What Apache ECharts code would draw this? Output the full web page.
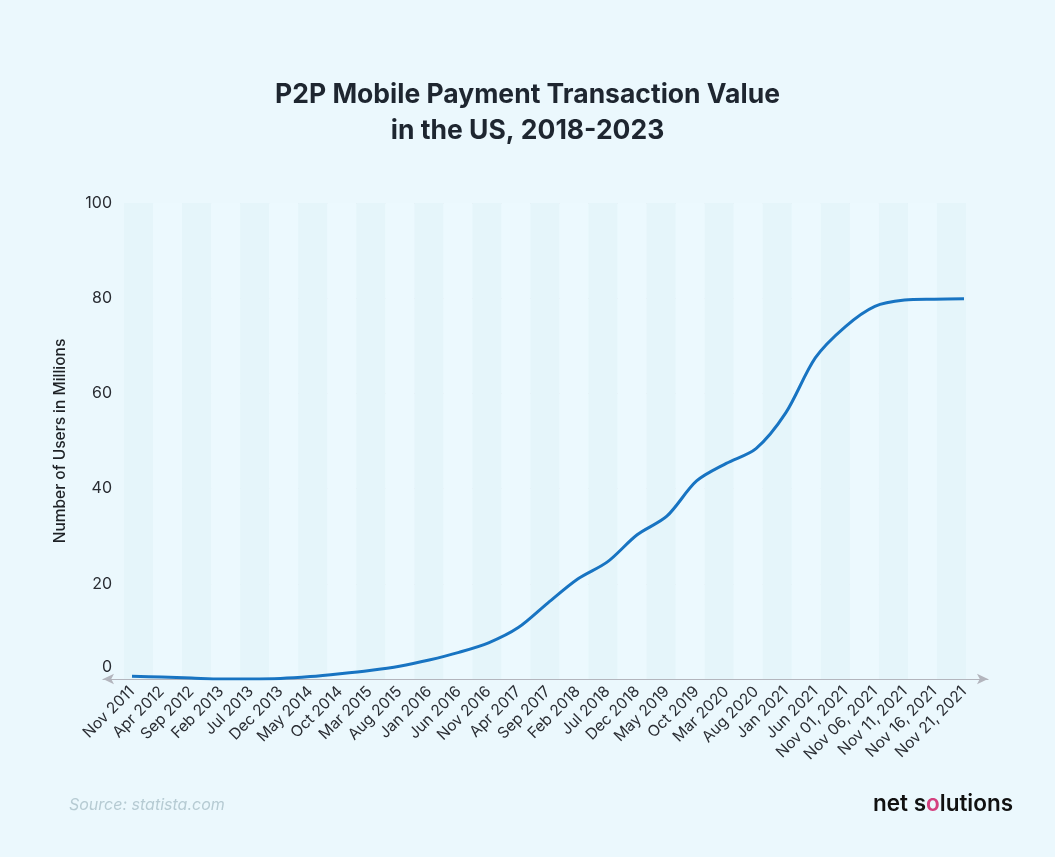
<!DOCTYPE html>
<html>
<head>
<meta charset="utf-8">
<script src="https://cdn.jsdelivr.net/npm/echarts@6/dist/echarts.min.js"></script>
<style>
html,body{margin:0;padding:0;background:#ebf8fd;}
#chart{width:1055px;height:857px;}
</style>
</head>
<body>
<div id="chart"></div>
<script>
const categories = ['Nov 2011','Apr 2012','Sep 2012','Feb 2013','Jul 2013','Dec 2013','May 2014','Oct 2014','Mar 2015','Aug 2015','Jan 2016','Jun 2016','Nov 2016','Apr 2017','Sep 2017','Feb 2018','Jul 2018','Dec 2018','May 2019','Oct 2019','Mar 2020','Aug 2020','Jan 2021','Jun 2021','Nov 01, 2021','Nov 06, 2021','Nov 11, 2021','Nov 16, 2021','Nov 21, 2021'];
const users = [0.6,0.4,0.2,0.0,0.0,0.1,0.5,1.1,1.8,2.7,4.0,5.6,7.6,10.8,16.0,21.0,24.6,30.3,34.2,41.6,45.3,48.4,55.9,67.5,74.0,78.3,79.6,79.8,79.9];
const yTicks = {min:0, max:100, interval:20};

const chart = echarts.init(document.getElementById('chart'));
const FONT = 'Inter, Lato, sans-serif';
chart.setOption({
  backgroundColor:'#ebf8fd',
  animation:false,
  title:{
    text:'P2P Mobile Payment Transaction Value\nin the US, 2018-2023',
    left:'center', top:72,
    textStyle:{fontFamily:FONT, fontSize:26.5, fontWeight:700, color:'#1e2630', lineHeight:36}
  },
  graphic:[
    {type:'text', left:69, top:797, style:{text:'Source: statista.com', fontFamily:FONT, fontStyle:'italic', fontSize:16, fill:'#b6cbd3'}},
    {type:'text', left:873, top:793, style:{
      text:'{a|net s}{o|o}{a|lutions}',
      rich:{
        a:{fontFamily:FONT, fontSize:22.5, fontWeight:600, fill:'#111111'},
        o:{fontFamily:FONT, fontSize:22.5, fontWeight:600, fill:'#d4407f'}
      }}}
  ],
  grid:[
    {left:124, right:89, top:203, bottom:178},
    {left:132, right:91, top:203, bottom:178},
    {left:103, right:67, top:203, bottom:178}
  ],
  xAxis:[
    {type:'category', gridIndex:0, data:categories, boundaryGap:true,
     axisLine:{show:false}, axisTick:{show:false}, axisLabel:{show:false, interval:0},
     splitLine:{show:false},
     splitArea:{show:true, interval:0, areaStyle:{color:['#e5f5fa','#ecf9fe']}}},
    {type:'category', gridIndex:1, data:categories, boundaryGap:false,
     axisLine:{show:false}, axisTick:{show:false},
     axisLabel:{rotate:45, margin:10, interval:0, fontFamily:FONT, fontSize:15.5, color:'#2a2d33'}},
    {type:'category', gridIndex:2, data:categories, boundaryGap:false,
     axisLine:{show:true, symbol:['arrow','arrow'], symbolSize:[8,11], lineStyle:{color:'#b3b5bd', width:1.2}},
     axisTick:{show:false}, axisLabel:{show:false}}
  ],
  yAxis:[
    {type:'value', gridIndex:0, min:yTicks.min, max:yTicks.max, interval:yTicks.interval,
     name:'Number of Users in Millions', nameLocation:'middle', nameGap:56, nameRotate:90,
     nameTextStyle:{fontFamily:FONT, fontSize:15.5, fontWeight:500, color:'#1e2226'},
     axisLine:{show:false}, axisTick:{show:false},
     axisLabel:{margin:12, fontFamily:FONT, fontSize:16, color:'#2a2d33',
       formatter:function(v){return v===0?'{z|0}':String(v);},
       rich:{z:{fontFamily:FONT, fontSize:16, color:'#2a2d33', padding:[0,0,24,0]}}},
     splitLine:{show:true, lineStyle:{color:'#e1e3ea', width:1}}},
    {type:'value', gridIndex:1, min:yTicks.min, max:yTicks.max, show:false, splitLine:{show:false}},
    {type:'value', gridIndex:2, min:yTicks.min, max:yTicks.max, show:false, splitLine:{show:false}}
  ],
  series:[
    {type:'line', xAxisIndex:1, yAxisIndex:1, data:users, smooth:0.3,
     showSymbol:false, lineStyle:{color:'#1874c2', width:3}}
  ]
});
</script>
</body>
</html>
